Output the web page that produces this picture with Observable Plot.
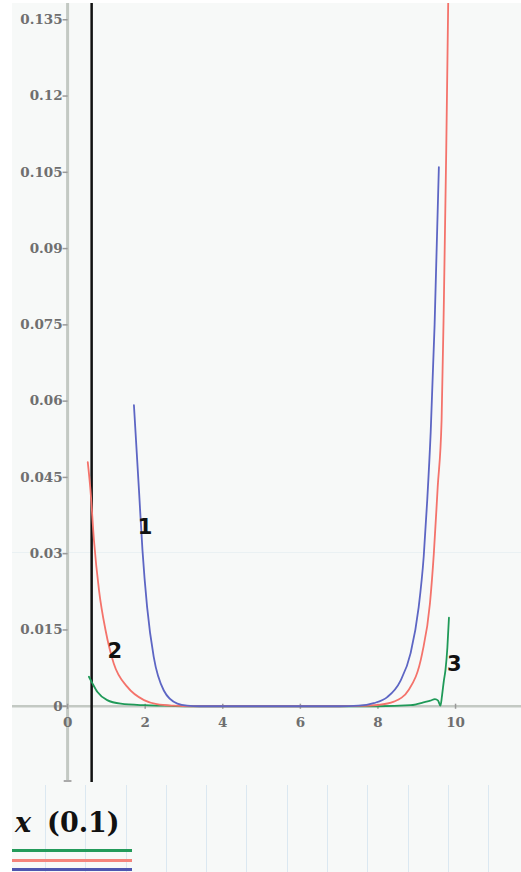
<!DOCTYPE html>
<html>
<head>
<meta charset="utf-8">
<script src="https://cdn.jsdelivr.net/npm/d3@7"></script>
<script src="https://cdn.jsdelivr.net/npm/@observablehq/plot@0.6"></script>
<style>
  html, body { margin: 0; padding: 0; background: #ffffff; }
  #wrap { position: relative; width: 521px; height: 872px; overflow: hidden; }
  #bg { position: absolute; left: 12px; top: 3px; width: 509px; height: 869px; background: #f7f9f8; }
  #grid { position: absolute; left: 12px; top: 785px; width: 509px; height: 87px;
    background-image: repeating-linear-gradient(to right, transparent 0px, transparent 33px, #dbe8f1 33px, #dbe8f1 34px, transparent 34px, transparent 40.3px); }
  #faint { position: absolute; left: 12px; top: 552px; width: 509px; height: 1px; background: #eaf1f3; }
  #chart { position: absolute; left: 0; top: 0; }
  #legend { position: absolute; left: 0; top: 800px; width: 521px; height: 72px; }
  #axlabel { position: absolute; left: 15px; top: 5px; font-family: "DejaVu Serif", serif; font-weight: bold; font-size: 27px; color: #111; line-height: 36px; white-space: nowrap; }
  #axlabel i { margin-right: 16px; }
  .lg { position: absolute; left: 12px; width: 120px; height: 3px; }
</style>
</head>
<body>
<div id="wrap">
  <div id="bg"></div>
  <div id="faint"></div>
  <div id="grid"></div>
  <div id="chart"></div>
  <div id="legend">
    <div id="axlabel"><i>x</i>(0.1)</div>
    <div class="lg" style="top:49px;background:#239b5a"></div>
    <div class="lg" style="top:59px;background:#f4847c"></div>
    <div class="lg" style="top:68px;background:#4e56b0"></div>
  </div>
</div>
<script>
// ---- data ----
const blueX = [1.71, 1.84, 1.93, 2.05, 2.22, 2.48, 2.83, 3.08, 3.4, 4, 5, 6, 7, 7.5, 7.89, 8.24, 8.58, 8.84, 9.05, 9.18, 9.27, 9.36, 9.46, 9.57];
const blueY = [0.0592, 0.0425, 0.0307, 0.0195, 0.0097, 0.0031, 0.0005, 0.0001, 0, 0, 0, 0, 0, 0.0001, 0.0006, 0.0018, 0.005, 0.0104, 0.0195, 0.0295, 0.0405, 0.054, 0.075, 0.106];

const redX = [0.52, 0.59, 0.68, 0.81, 0.98, 1.19, 1.54, 1.97, 2.3, 2.73, 3.2, 4, 5, 6, 7, 7.55, 8.0, 8.41, 8.8, 9.14, 9.34, 9.44, 9.54, 9.64, 9.70, 9.76, 9.81, 9.84];
const redY = [0.048, 0.0425, 0.0326, 0.0228, 0.0149, 0.0084, 0.0038, 0.0012, 0.0004, 0.0001, 0, 0, 0, 0, 0, 0.00005, 0.00024, 0.0009, 0.0033, 0.0104, 0.0202, 0.03, 0.0431, 0.0562, 0.08, 0.1093, 0.138, 0.155];

const greenX = [0.55, 0.64, 0.77, 1.02, 1.37, 1.97, 2.5, 3.0, 4, 5, 6, 7, 8.0, 8.84, 9.0, 9.2, 9.35, 9.47, 9.55, 9.61, 9.65, 9.70, 9.74, 9.79, 9.83];
const greenY = [0.0058, 0.0045, 0.0028, 0.0012, 0.0005, 0.0002, 0.0001, 0, 0, 0, 0, 0, 0, 0.0002, 0.0004, 0.0008, 0.0011, 0.0014, 0.0011, 0.0001, 0.002, 0.0051, 0.0071, 0.0116, 0.0174];

const yTicks = [0, 0.015, 0.03, 0.045, 0.06, 0.075, 0.09, 0.105, 0.12, 0.135];
const yTickLabels = ["0", "0.015", "0.03", "0.045", "0.06", "0.075", "0.09", "0.105", "0.12", "0.135"];
const xTicks = [0, 2, 4, 6, 8, 10];
const xTickLabels = ["0", "2", "4", "6", "8", "10"];

const curveNames = ["1", "2", "3"];
const curveLabelX = [2.0, 1.22, 9.97];
const curveLabelY = [0.0352, 0.0108, 0.0083];

const markerX = [0.62]; // black vertical line

// ---- build ----
const xDom = [-1.42, 11.7];
const yDom = [-0.015, 0.1382];
const zip = (xs, ys) => xs.map((x, i) => ({x, y: ys[i]}));
const blue = zip(blueX, blueY), red = zip(redX, redY), green = zip(greenX, greenY);
const labels = curveNames.map((t, i) => ({t, x: curveLabelX[i], y: curveLabelY[i]}));

const gray = "#c3c9c3";
const tickFont = {fontFamily: "DejaVu Serif", fontWeight: "bold", fontSize: 13.5, fill: "#6f6f6f"};

const chart = Plot.plot({
  width: 521, height: 800,
  marginLeft: 12, marginRight: 0, marginTop: 3, marginBottom: 18,
  style: {background: "transparent", overflow: "visible"},
  x: {domain: xDom, axis: null},
  y: {domain: yDom, axis: null},
  marks: [
    Plot.ruleY([0], {x1: xDom[0], x2: xDom[1], stroke: gray, strokeWidth: 2.5}),
    Plot.ruleX([0], {y1: yDom[0], y2: yDom[1], stroke: gray, strokeWidth: 3}),
    Plot.link(yTicks, {x1: -0.13, x2: 0, y1: d => d, y2: d => d, stroke: "#999", strokeWidth: 1.5}),
    Plot.link([yDom[0]], {x1: -0.1, x2: 0.1, y1: d => d + 0.0003, y2: d => d + 0.0003, stroke: "#aaa", strokeWidth: 2}),
    Plot.link(xTicks, {x1: d => d, x2: d => d, y1: -0.0005, y2: 0.0005, stroke: "#999", strokeWidth: 1.5}),
    Plot.text(yTicks, {x: 0, y: d => d, text: (d, i) => yTickLabels[i], dx: -5, textAnchor: "end", ...tickFont}),
    Plot.text(xTicks, {x: d => d, y: 0, text: (d, i) => xTickLabels[i], dy: 16, ...tickFont}),
    Plot.ruleX(markerX, {y1: yDom[0], y2: yDom[1], stroke: "#111", strokeWidth: 2.5}),
    Plot.line(green, {x: "x", y: "y", stroke: "#1f9a58", strokeWidth: 1.8, curve: "monotone-x", clip: true}),
    Plot.line(red, {x: "x", y: "y", stroke: "#f4736b", strokeWidth: 1.8, curve: "monotone-x", clip: true}),
    Plot.line(blue, {x: "x", y: "y", stroke: "#5d66c4", strokeWidth: 1.8, curve: "monotone-x", clip: true}),
    Plot.text(labels, {x: "x", y: "y", text: "t", fontFamily: "DejaVu Sans", fontWeight: "bold", fontSize: 21, fill: "#111"})
  ]
});
document.getElementById("chart").appendChild(chart);
</script>
</body>
</html>
